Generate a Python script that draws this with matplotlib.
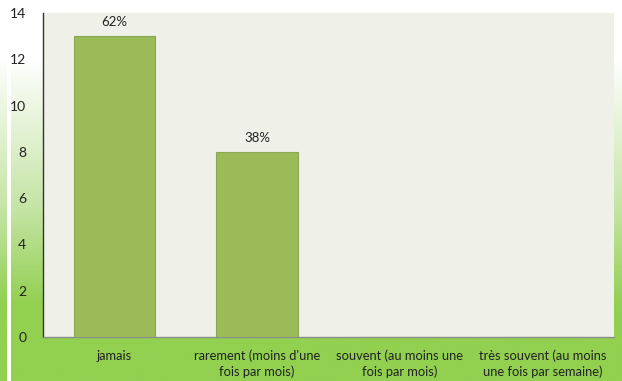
import numpy as np
import matplotlib.pyplot as plt
from matplotlib.colors import LinearSegmentedColormap

# Fréquence de réponse par catégorie
categories = ['jamais', "rarement (moins d'une\nfois par mois)",
              'souvent (au moins une\nfois par mois)',
              'très souvent (au moins\nune fois par semaine)']
effectifs = [13, 8, 0, 0]
etiquettes = ['62%', '38%', '', '']
yticks = [0, 2, 4, 6, 8, 10, 12, 14]

W, H = 622, 381
fig = plt.figure(figsize=(W / 100, H / 100), dpi=100)
fig.patch.set_facecolor('white')

# Dégradé blanc -> vert pour le fond
degrade = LinearSegmentedColormap.from_list(
    'fond', [(0.0, '#ffffff'), (0.15, '#ffffff'), (0.55, '#c4e4a4'),
             (0.8, '#92d050'), (1.0, '#92d050')])
grad = np.linspace(0, 1, 256).reshape(-1, 1)

for rect in ([0, 0, 6 / W, 1], [11 / W, 0, 1 - 11 / W, 1]):
    bg = fig.add_axes(rect)
    bg.imshow(grad, aspect='auto', cmap=degrade, extent=[0, 1, 0, 1])
    bg.set_axis_off()

ax = fig.add_axes([43 / W, 44 / H, 571 / W, 324 / H])
ax.set_facecolor('#eff1e9')

x = np.arange(len(categories))
barres = ax.bar(x, effectifs, width=0.57, color='#9bbb59',
                edgecolor='#8aa84f', linewidth=0.8, zorder=3)

for b, txt in zip(barres, etiquettes):
    if txt:
        ax.text(b.get_x() + b.get_width() / 2, b.get_height() + 0.35, txt,
                ha='center', va='bottom', fontsize=9.5, family='Lato',
                color='#222222')

ax.set_xlim(-0.5, len(categories) - 0.5)
ax.set_ylim(0, 14)
ax.set_yticks(yticks)
ax.set_xticks(x)
ax.set_xticklabels(categories, fontsize=9.3, family='Lato', color='#222222',
                   linespacing=1.3)
ax.tick_params(axis='y', length=0, pad=12, labelsize=10, labelcolor='#222222')
ax.tick_params(axis='x', length=0, pad=9)
for lab in ax.get_yticklabels():
    lab.set_family('Lato')

for s in ['top', 'right']:
    ax.spines[s].set_visible(False)
ax.spines['left'].set_color('#333333')
ax.spines['left'].set_linewidth(1.0)
ax.spines['bottom'].set_color('#8c8c8c')
ax.spines['bottom'].set_linewidth(1.0)

plt.savefig('out.png', dpi=100)
